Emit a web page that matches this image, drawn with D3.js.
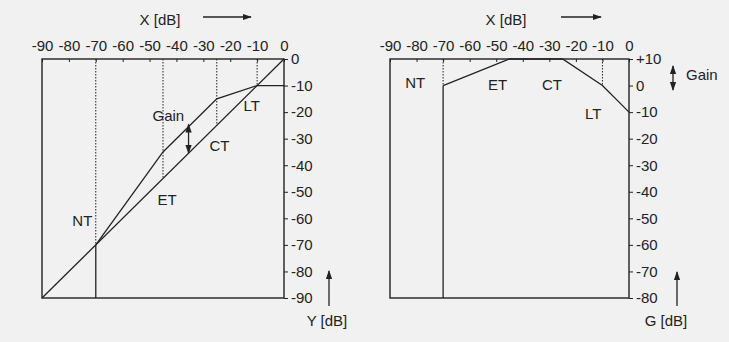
<!DOCTYPE html>
<html>
<head>
<meta charset="utf-8">
<script src="https://cdn.jsdelivr.net/npm/d3@7"></script>
<style>
  html, body { margin: 0; padding: 0; background: #f1f1f1; }
  svg text { font-family: "Liberation Sans", Arial, sans-serif; fill: #222; }
</style>
</head>
<body>
<div id="chart"></div>
<script>
// Input level ticks (top axis, both panels)
const xTicks = [-90, -80, -70, -60, -50, -40, -30, -20, -10, 0];
// Output level ticks (left panel, right axis)
const yTicks = [0, -10, -20, -30, -40, -50, -60, -70, -80, -90];
// Gain ticks (right panel, right axis)
const gTicks = [10, 0, -10, -20, -30, -40, -50, -60, -70, -80];
const gTickLabels = ["+10", "0", "-10", "-20", "-30", "-40", "-50", "-60", "-70", "-80"];

// Thresholds
const thresholdNames = ["NT", "ET", "CT", "LT"];
const thresholdLevels = [-70, -45, -25, -10];

// Identity line X = Y
const identityX = [-90, 0];
const identityY = [-90, 0];

// Characteristic curve Y(X)
const curveX = [-70, -45, -25, -10, 0];
const curveY = [-70, -35, -15, -10, -10];

// Gain curve G(X)
const gainX = [-70, -45, -25, -10, 0];
const gainY = [0, 10, 10, 0, -10];

const W = 729, H = 342;
const ink = "#222";
const fs = 15;

const svg = d3.select("#chart").append("svg")
  .attr("width", W).attr("height", H);

const defs = svg.append("defs");
defs.append("marker")
  .attr("id", "arr")
  .attr("viewBox", "0 0 10 10")
  .attr("refX", 9).attr("refY", 5)
  .attr("markerWidth", 7).attr("markerHeight", 7)
  .attr("orient", "auto-start-reverse")
  .append("path").attr("d", "M0,1.5 L10,5 L0,8.5 Z").attr("fill", ink);

// Scales
const xL = d3.scaleLinear().domain([-90, 0]).range([42, 284]);
const yL = d3.scaleLinear().domain([0, -90]).range([59, 298]);
const xR = d3.scaleLinear().domain([-90, 0]).range([390, 629]);
const yR = d3.scaleLinear().domain([10, -80]).range([59, 298]);

function styleTicks(sel) {
  sel.select(".domain").remove();
  sel.selectAll(".tick line").attr("stroke", ink);
  sel.selectAll(".tick text")
    .attr("font-size", fs).attr("fill", ink)
    .style("font-family", "'Liberation Sans', Arial, sans-serif");
}

function drawFrame(x, y, yVals, yFmt) {
  const g = svg.append("g");
  const [x0, x1] = x.range();
  const [y0, y1] = y.range();
  g.append("rect")
    .attr("x", x0).attr("y", y0)
    .attr("width", x1 - x0).attr("height", y1 - y0)
    .attr("fill", "none").attr("stroke", ink).attr("stroke-width", 1.4);

  // top axis
  const top = g.append("g").attr("transform", `translate(0,${y0})`)
    .call(d3.axisTop(x).tickValues(xTicks).tickSize(-3).tickPadding(8)
      .tickFormat(d => String(d)));
  styleTicks(top);

  // right axis
  const right = g.append("g").attr("transform", `translate(${x1},0)`)
    .call(d3.axisRight(y).tickValues(yVals).tickSize(4).tickPadding(3).tickFormat(yFmt));
  styleTicks(right);
  return g;
}

function arrow(g, x1, y1, x2, y2, both) {
  const l = g.append("line")
    .attr("x1", x1).attr("y1", y1).attr("x2", x2).attr("y2", y2)
    .attr("stroke", ink).attr("stroke-width", 1.3)
    .attr("marker-end", "url(#arr)");
  if (both) l.attr("marker-start", "url(#arr)");
}

function label(g, x, y, t, anchor) {
  g.append("text").attr("x", x).attr("y", y)
    .attr("font-size", fs).attr("text-anchor", anchor || "middle")
    .attr("dominant-baseline", "middle").text(t);
}

const line = (x, y) => d3.line().x(d => x(d[0])).y(d => y(d[1]));

// ---------- Left panel: Y vs X ----------
const gl = drawFrame(xL, yL, yTicks, d => String(d));

// threshold verticals: dotted above identity line
thresholdLevels.forEach(t => {
  gl.append("line")
    .attr("x1", xL(t)).attr("x2", xL(t))
    .attr("y1", yL(0)).attr("y2", yL(t))
    .attr("stroke", ink).attr("stroke-width", 1).attr("stroke-dasharray", "1.5,1.5");
});
// noise gate: solid below NT
gl.append("line")
  .attr("x1", xL(thresholdLevels[0])).attr("x2", xL(thresholdLevels[0]))
  .attr("y1", yL(thresholdLevels[0])).attr("y2", yL(-90))
  .attr("stroke", ink).attr("stroke-width", 1.3);

gl.append("path")
  .datum(d3.zip(identityX, identityY))
  .attr("d", line(xL, yL))
  .attr("fill", "none").attr("stroke", ink).attr("stroke-width", 1.3);

gl.append("path")
  .datum(d3.zip(curveX, curveY))
  .attr("d", line(xL, yL))
  .attr("fill", "none").attr("stroke", ink).attr("stroke-width", 1.3);

// labels
label(gl, xL(-43), yL(-22), "Gain");
arrow(gl, xL(-35.5), yL(-24.6), xL(-35.5), yL(-35.4), true);
label(gl, xL(-24), yL(-33), "CT");
label(gl, xL(-43.5), yL(-53.5), "ET");
label(gl, xL(-75), yL(-61.5), "NT");
label(gl, xL(-12), yL(-18), "LT");

label(gl, 160, 21, "X [dB]");
arrow(gl, 203, 17, 251, 17, false);
arrow(gl, 329, 306, 329, 271, false);
label(gl, 327, 322, "Y [dB]");

// ---------- Right panel: G vs X ----------
const gr = drawFrame(xR, yR, gTicks, (d, i) => gTickLabels[i]);

thresholdLevels.forEach((t, i) => {
  gr.append("line")
    .attr("x1", xR(t)).attr("x2", xR(t))
    .attr("y1", yR(10)).attr("y2", yR(gainY[i]))
    .attr("stroke", ink).attr("stroke-width", 1).attr("stroke-dasharray", "1.5,1.5");
});
gr.append("line")
  .attr("x1", xR(thresholdLevels[0])).attr("x2", xR(thresholdLevels[0]))
  .attr("y1", yR(gainY[0])).attr("y2", yR(-80))
  .attr("stroke", ink).attr("stroke-width", 1.3);

gr.append("path")
  .datum(d3.zip(gainX, gainY))
  .attr("d", line(xR, yR))
  .attr("fill", "none").attr("stroke", ink).attr("stroke-width", 1.3);

label(gr, xR(-80.5), yR(0.5), "NT");
label(gr, xR(-49.5), yR(0), "ET");
label(gr, xR(-29), yR(0), "CT");
label(gr, xR(-13.5), yR(-11), "LT");

label(gr, 506, 21, "X [dB]");
arrow(gr, 561, 17, 601, 17, false);
arrow(gr, 673, 77, 673, 66, false);
arrow(gr, 673, 77, 673, 90, false);
label(gr, 686, 76, "Gain", "start");
arrow(gr, 677, 306, 677, 272, false);
label(gr, 666, 322, "G [dB]");
</script>
</body>
</html>
